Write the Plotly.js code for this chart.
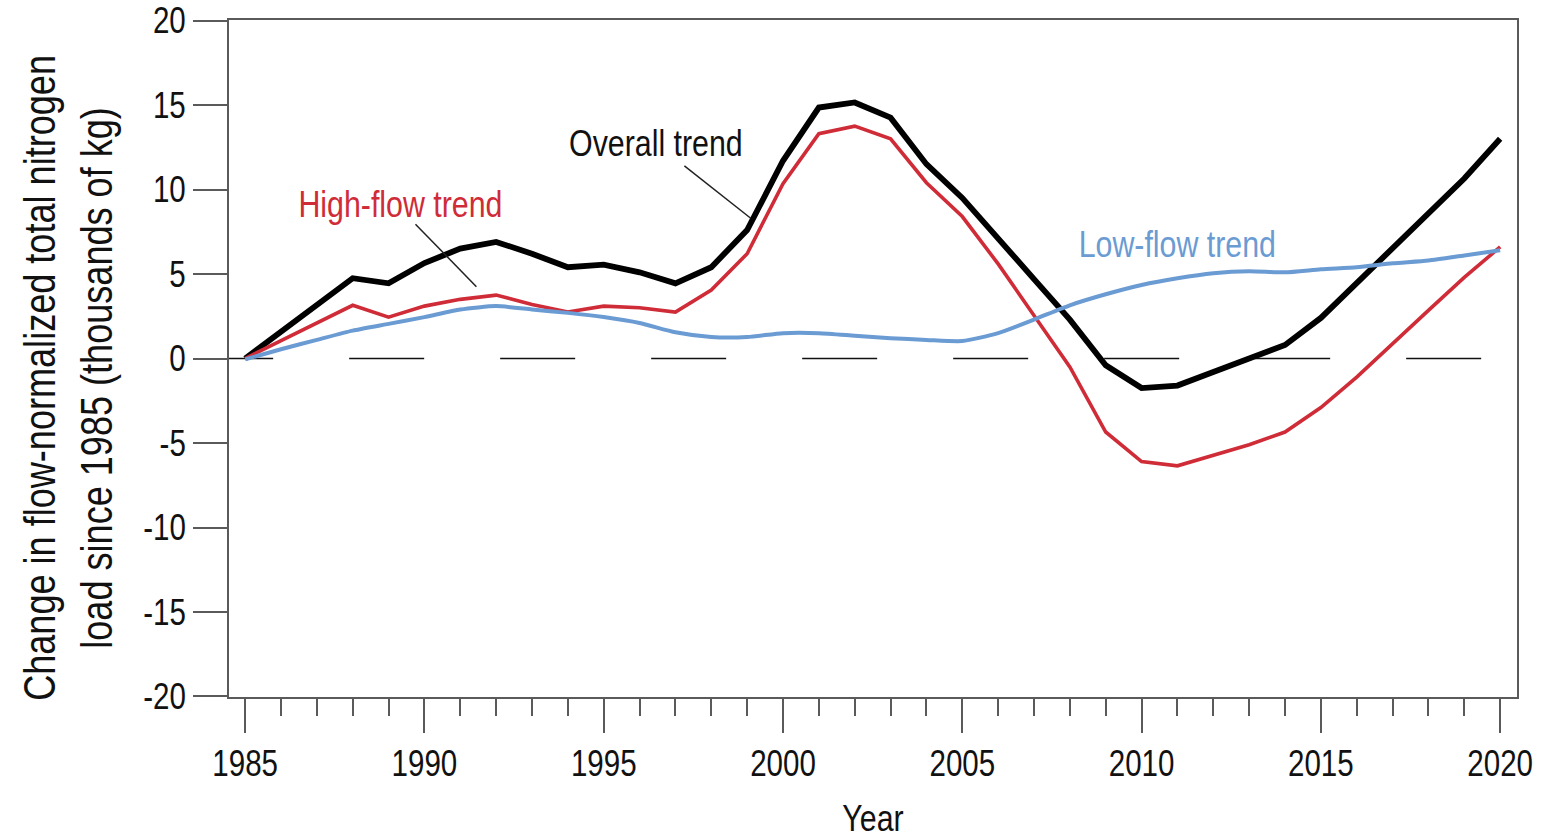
<!DOCTYPE html>
<html>
<head>
<meta charset="utf-8">
<script src="https://cdn.plot.ly/plotly-3.0.1.min.js"></script>
<style>html,body{margin:0;padding:0;background:#fff;}#chart{width:1544px;height:839px;}</style>
</head>
<body>
<div id="chart"></div>
<script>
const years = [1985,1986,1987,1988,1989,1990,1991,1992,1993,1994,1995,1996,1997,1998,1999,2000,2001,2002,2003,2004,2005,2006,2007,2008,2009,2010,2011,2012,2013,2014,2015,2016,2017,2018,2019,2020];
const overallTrend = [0,1.6,3.2,4.75,4.45,5.65,6.5,6.9,6.2,5.4,5.55,5.1,4.45,5.4,7.6,11.7,14.85,15.15,14.25,11.5,9.5,7.15,4.7,2.3,-0.4,-1.75,-1.6,-0.8,0.03,0.8,2.4,4.45,6.6,8.6,10.65,13.0];
const highFlowTrend = [0,1.05,2.1,3.15,2.45,3.1,3.5,3.75,3.2,2.75,3.1,3.0,2.75,4.05,6.2,10.35,13.3,13.75,13.0,10.4,8.4,5.6,2.55,-0.5,-4.35,-6.1,-6.35,-5.75,-5.1,-4.35,-2.9,-1.1,0.9,2.85,4.8,6.6];
const lowFlowTrend = [-0.05,0.55,1.1,1.65,2.05,2.45,2.9,3.1,2.9,2.7,2.45,2.1,1.55,1.27,1.27,1.5,1.5,1.35,1.2,1.1,1.03,1.5,2.3,3.15,3.8,4.35,4.75,5.05,5.17,5.1,5.28,5.4,5.63,5.8,6.1,6.4];
const yTicks = [-20,-15,-10,-5,0,5,10,15,20];
const xTicks = [1985,1990,1995,2000,2005,2010,2015,2020];
const yTitleText = 'Change in flow-normalized total nitrogen<br>load since 1985 (thousands of kg)';

const FONT = '"Liberation Sans", Arial, sans-serif';
const RED = '#cf2c38';
const BLUE = '#6b9bd3';
const AX = '#5a5a5a';

const traces = [
  {x: years, y: overallTrend, mode: 'lines', name: 'Overall trend', line: {color: '#000000', width: 5.8}, hoverinfo: 'x+y'},
  {x: years, y: highFlowTrend, mode: 'lines', name: 'High-flow trend', line: {color: RED, width: 3.6}, hoverinfo: 'x+y'},
  {x: years, y: lowFlowTrend, mode: 'lines', name: 'Low-flow trend', line: {color: BLUE, width: 4, shape: 'spline', smoothing: 0.6}, hoverinfo: 'x+y'}
];

const layout = {
  width: 1544, height: 839,
  margin: {l: 229, r: 27, t: 20, b: 142},
  paper_bgcolor: '#ffffff', plot_bgcolor: '#ffffff',
  showlegend: false,
  font: {family: FONT, size: 36, color: '#111'},
  xaxis: {
    range: [1984.55, 2020.47],
    tickmode: 'array', tickvals: xTicks, ticktext: xTicks.map(String),
    ticks: 'outside', ticklen: 34, tickwidth: 2, tickcolor: AX,
    minor: {dtick: 1, tick0: 1985, ticks: 'outside', ticklen: 17, tickwidth: 2, tickcolor: AX, showgrid: false},
    showline: true, linecolor: AX, linewidth: 2, mirror: true,
    showgrid: false, zeroline: false,
    tickfont: {family: FONT, size: 36, color: '#111'},
    title: {text: 'Year', font: {family: FONT, size: 37, color: '#111'}, standoff: 26}
  },
  yaxis: {
    range: [-20.03, 20.03],
    tickmode: 'array', tickvals: yTicks, ticktext: yTicks.map(String),
    ticks: 'outside', ticklen: 34, tickwidth: 2, tickcolor: AX,
    showline: true, linecolor: AX, linewidth: 2, mirror: true,
    showgrid: false, zeroline: false,
    tickfont: {family: FONT, size: 36, color: '#111'}
  },
  shapes: [
    {type: 'line', xref: 'x', yref: 'y', x0: 1983.69, x1: 2021.0, y0: 0, y1: 0, layer: 'below',
     line: {color: '#111', width: 1.5, dash: '75px,76px'}},
    {type: 'line', xref: 'x', yref: 'y', x0: 1997.25, y0: 11.4, x1: 1999.1, y1: 8.3, line: {color: '#222', width: 1.5}},
    {type: 'line', xref: 'x', yref: 'y', x0: 1989.75, y0: 7.95, x1: 1991.45, y1: 4.25, line: {color: '#222', width: 1.5}}
  ],
  annotations: [
    {x: 1996.45, y: 12.7, xref: 'x', yref: 'y', text: 'Overall trend', showarrow: false, font: {family: FONT, size: 37, color: '#111'}},
    {x: 1989.32, y: 9.1, xref: 'x', yref: 'y', text: 'High-flow trend', showarrow: false, font: {family: FONT, size: 37, color: RED}},
    {x: 2011.0, y: 6.75, xref: 'x', yref: 'y', text: 'Low-flow trend', showarrow: false, font: {family: FONT, size: 37, color: BLUE}},
    {x: -0.1248, y: 0.472, xref: 'paper', yref: 'paper', xanchor: 'center', yanchor: 'middle', textangle: -90,
     text: yTitleText, showarrow: false, font: {family: FONT, size: 44, color: '#111'}}
  ]
};

function squeeze() {
  document.querySelectorAll('#chart svg text').forEach(function (t) {
    const lines = t.querySelectorAll('tspan.line');
    const targets = lines.length ? Array.from(lines) : [t];
    targets.forEach(function (el) {
      const L = el.getComputedTextLength();
      if (L > 0) {
        el.setAttribute('textLength', (L * 0.82).toFixed(2));
        el.setAttribute('lengthAdjust', 'spacingAndGlyphs');
      }
    });
  });
}

Plotly.newPlot('chart', traces, layout, {staticPlot: true, displayModeBar: false}).then(squeeze);
</script>
</body>
</html>
